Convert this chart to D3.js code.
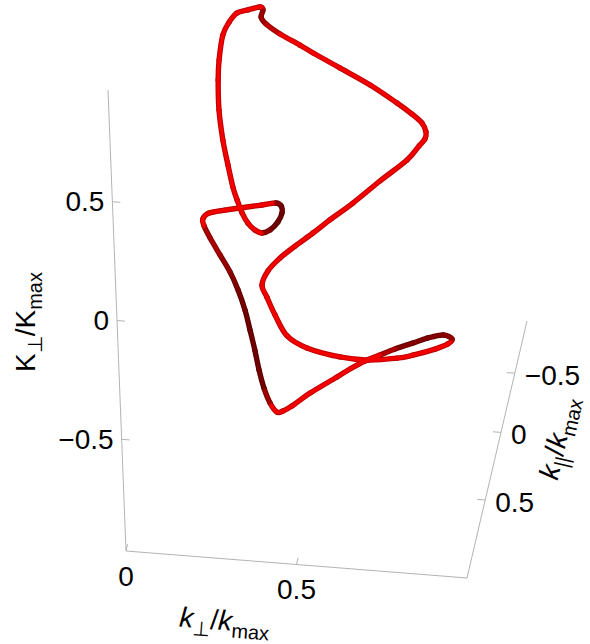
<!DOCTYPE html>
<html>
<head>
<meta charset="utf-8">
<script src="https://cdn.jsdelivr.net/npm/d3@7"></script>
<style>
  body { margin: 0; background: #fff; }
  text { font-family: "Liberation Sans", Arial, sans-serif; fill: #000; }
</style>
</head>
<body>
<div id="chart"></div>
<script>
const WIDTH = 590;
const HEIGHT = 644;

// closed curve: (k_perp/k_max, k_par/k_max, K_perp/K_max)
const kPerp = [0.287, 0.320, 0.355, 0.364, 0.342, 0.346, 0.381, 0.438, 0.476, 0.553,
  0.640, 0.717, 0.760, 0.788, 0.799, 0.795, 0.777, 0.740, 0.658, 0.576,
  0.506, 0.455, 0.401, 0.355, 0.318, 0.299, 0.312, 0.334, 0.367, 0.424,
  0.520, 0.602, 0.688, 0.735, 0.801, 0.839, 0.852, 0.841, 0.817, 0.794,
  0.758, 0.719, 0.674, 0.629, 0.590, 0.509, 0.454, 0.427, 0.409, 0.390,
  0.368, 0.344, 0.317, 0.289, 0.261, 0.231, 0.200, 0.165, 0.132, 0.112,
  0.109, 0.128, 0.175, 0.220, 0.285, 0.326, 0.350, 0.366, 0.368, 0.354,
  0.335, 0.315, 0.295, 0.279, 0.266, 0.255, 0.243, 0.231, 0.223, 0.224,
  0.229, 0.243, 0.263];
const kPar = [0.15, 0.15, 0.15, 0.15, 0.0, -0.1, -0.15, -0.15, -0.15, -0.15,
  -0.15, -0.15, -0.15, -0.15, -0.15, -0.15, -0.15, -0.15, -0.15, -0.15,
  -0.15, -0.15, -0.15, -0.15, -0.15, -0.15, -0.15, -0.15, -0.15, -0.15,
  -0.15, -0.15, -0.15, -0.15, -0.15, -0.15, -0.15, 0.0, 0.2, 0.4,
  0.55, 0.6, 0.6, 0.6, 0.6, 0.6, 0.6, 0.6, 0.6, 0.6,
  0.55, 0.45, 0.3, 0.15, 0.0, -0.12, -0.22, -0.3, -0.36, -0.4,
  -0.4, -0.4, -0.4, -0.4, -0.4, -0.4, -0.3, -0.15, 0.0, 0.1,
  0.15, 0.15, 0.15, 0.15, 0.15, 0.15, 0.15, 0.15, 0.15, 0.15,
  0.15, 0.15, 0.15];
const KPerp = [0.795, 0.812, 0.828, 0.817, 0.703, 0.622, 0.558, 0.518, 0.489, 0.435,
  0.373, 0.306, 0.264, 0.230, 0.193, 0.163, 0.132, 0.069, -0.029, -0.131,
  -0.210, -0.271, -0.332, -0.388, -0.446, -0.508, -0.557, -0.630, -0.714, -0.758,
  -0.785, -0.789, -0.771, -0.753, -0.720, -0.694, -0.672, -0.578, -0.484, -0.393,
  -0.331, -0.330, -0.360, -0.399, -0.437, -0.514, -0.575, -0.599, -0.605, -0.569,
  -0.540, -0.528, -0.535, -0.539, -0.539, -0.521, -0.500, -0.472, -0.433, -0.404,
  -0.375, -0.348, -0.330, -0.316, -0.296, -0.283, -0.244, -0.197, -0.156, -0.138,
  -0.125, -0.115, -0.088, -0.047, 0.006, 0.059, 0.151, 0.254, 0.380, 0.506,
  0.591, 0.698, 0.754];

const xTicks = [0, 0.5];
const yTicks = [-0.5, 0, 0.5];
const zTicks = [-0.5, 0, 0.5];

// box ranges
const X_RANGE = [0, 1];
const Y_RANGE = [1, -1];   // front -> back
const Z_RANGE = [-0.97, 0.97];

// projection of the box onto the page
const ORIGIN = [126, 551];
const EX = [341, 27];
const EY = [60, -257];
const EZ = [-18, -461];
const PERSP = 0.307;

const xScale = d3.scaleLinear().domain(X_RANGE).range([0, 1]);
const yScale = d3.scaleLinear().domain(Y_RANGE).range([0, 1]);
const zScale = d3.scaleLinear().domain(Z_RANGE).range([0, 1]);

const depth = y => {
  const t = yScale(y);
  return t * (1 + PERSP) / (1 + PERSP * t);
};

const project = (x, y, z) => {
  const u = xScale(x), v = depth(y), w = zScale(z);
  return [
    ORIGIN[0] + u * EX[0] + v * EY[0] + w * EZ[0],
    ORIGIN[1] + u * EX[1] + v * EY[1] + w * EZ[1]
  ];
};

const svg = d3.select('#chart').append('svg')
  .attr('width', WIDTH)
  .attr('height', HEIGHT);

// ---- axes ----
const axes = svg.append('g').attr('id', 'axes')
  .attr('stroke', '#b3b3b3')
  .attr('stroke-width', 1)
  .attr('fill', 'none');

const zMin = Z_RANGE[0];
const edges = [
  [project(0, 1, zMin), project(0, 1, Z_RANGE[1])],
  [project(0, 1, zMin), project(1, 1, zMin)],
  [project(1, 1, zMin), project(1, -1, zMin)]
];
axes.selectAll('line.edge')
  .data(edges)
  .enter()
  .append('line')
  .attr('class', 'edge')
  .attr('x1', d => d[0][0]).attr('y1', d => d[0][1])
  .attr('x2', d => d[1][0]).attr('y2', d => d[1][1]);

const TICK = 8;
const unit = v => { const l = Math.hypot(v[0], v[1]); return [v[0] / l, v[1] / l]; };
const exU = unit(EX), eyU = unit(EY);

axes.selectAll('line.zt')
  .data(zTicks)
  .enter()
  .append('line')
  .attr('class', 'zt')
  .attr('x1', d => project(0, 1, d)[0])
  .attr('y1', d => project(0, 1, d)[1])
  .attr('x2', d => project(0, 1, d)[0] + exU[0] * TICK)
  .attr('y2', d => project(0, 1, d)[1] + exU[1] * TICK);

axes.selectAll('line.xt')
  .data(xTicks)
  .enter()
  .append('line')
  .attr('class', 'xt')
  .attr('x1', d => project(d, 1, zMin)[0])
  .attr('y1', d => project(d, 1, zMin)[1])
  .attr('x2', d => project(d, 1, zMin)[0] + eyU[0] * 7)
  .attr('y2', d => project(d, 1, zMin)[1] + eyU[1] * 7);

axes.selectAll('line.yt')
  .data(yTicks)
  .enter()
  .append('line')
  .attr('class', 'yt')
  .attr('x1', d => project(1, d, zMin)[0])
  .attr('y1', d => project(1, d, zMin)[1])
  .attr('x2', d => project(1, d, zMin)[0] - exU[0] * TICK)
  .attr('y2', d => project(1, d, zMin)[1] - exU[1] * TICK);

const fmt = d => d < 0 ? '\u2212' + Math.abs(d) : String(d);
const labels = svg.append('g').attr('id', 'tick-labels').attr('font-size', 28);

labels.selectAll('text.z')
  .data(zTicks)
  .enter()
  .append('text')
  .attr('class', 'z')
  .attr('text-anchor', 'end')
  .attr('dominant-baseline', 'central')
  .attr('x', d => project(0, 1, d)[0] - 8)
  .attr('y', d => project(0, 1, d)[1])
  .text(fmt);

labels.selectAll('text.x')
  .data(xTicks)
  .enter()
  .append('text')
  .attr('class', 'x')
  .attr('text-anchor', 'middle')
  .attr('dominant-baseline', 'central')
  .attr('x', d => project(d, 1, zMin)[0])
  .attr('y', d => project(d, 1, zMin)[1] + 25)
  .text(fmt);

labels.selectAll('text.y')
  .data(yTicks)
  .enter()
  .append('text')
  .attr('class', 'y')
  .attr('text-anchor', 'start')
  .attr('dominant-baseline', 'central')
  .attr('x', d => project(1, d, zMin)[0] + 10)
  .attr('y', d => project(1, d, zMin)[1] + 2)
  .text(fmt);

// axis titles: [text, italic, subscript]
const addTitle = (x, y, angle, parts) => {
  const t = svg.append('text')
    .attr('font-size', 28)
    .attr('text-anchor', 'middle')
    .attr('transform', `translate(${x},${y}) rotate(${angle})`);
  let shift = 0;
  parts.forEach(([s, italic, sub]) => {
    const dy = sub ? 7 - shift : -shift;
    shift = sub ? 7 : 0;
    t.append('tspan')
      .attr('dy', dy)
      .attr('font-size', sub ? 20 : 28)
      .attr('font-style', italic ? 'italic' : 'normal')
      .text(s);
  });
};

addTitle(35, 322, -90, [['K', 0, 0], ['\u22a5', 0, 1], ['/K', 0, 0], ['max', 0, 1]]);
addTitle(224, 630, 4.5, [['k', 1, 0], ['\u22a5', 0, 1], ['/', 0, 0], ['k', 1, 0], ['max', 0, 1]]);
addTitle(567, 440, -77, [['k', 1, 0], ['||', 1, 1], ['/', 0, 0], ['k', 1, 0], ['max', 0, 1]]);

// ---- tube ----
const pts = kPerp.map((x, i) => [x, kPar[i], KPerp[i]]);
const scr = pts.map(p => project(p[0], p[1], p[2]));
const n = pts.length;

const LEN = [341, 131.5, 237.6]; // page length of one unit along each axis
const bright = d3.interpolateRgb('#f50000', '#700000');

const segments = d3.range(n).map(i => {
  const a = (i - 1 + n) % n, b = (i + 1) % n, c = (i + 2) % n;
  const p0 = scr[a], p1 = scr[i], p2 = scr[b], p3 = scr[c];
  const c1 = [p1[0] + (p2[0] - p0[0]) / 6, p1[1] + (p2[1] - p0[1]) / 6];
  const c2 = [p2[0] - (p3[0] - p1[0]) / 6, p2[1] - (p3[1] - p1[1]) / 6];
  const path = d3.path();
  path.moveTo(p1[0], p1[1]);
  path.bezierCurveTo(c1[0], c1[1], c2[0], c2[1], p2[0], p2[1]);
  const w = [0, 1, 2].map(k => (pts[b][k] - pts[i][k]) * LEN[k]);
  const len = Math.hypot(w[0], w[1], w[2]) || 1;
  const dark = Math.min(1, Math.abs(w[1]) / len * 1.15);
  return { d: path.toString(), color: bright(dark) };
});

const tube = svg.append('g').attr('id', 'tube')
  .attr('fill', 'none')
  .attr('stroke-linecap', 'round')
  .attr('stroke-linejoin', 'round');

tube.selectAll('path.edge')
  .data(segments)
  .enter()
  .append('path')
  .attr('class', 'edge')
  .attr('d', d => d.d)
  .attr('stroke', d => d3.rgb(d.color).darker(0.7))
  .attr('stroke-width', 5.4);

tube.selectAll('path.core')
  .data(segments)
  .enter()
  .append('path')
  .attr('class', 'core')
  .attr('d', d => d.d)
  .attr('stroke', d => d.color)
  .attr('stroke-width', 3.2);
</script>
</body>
</html>
